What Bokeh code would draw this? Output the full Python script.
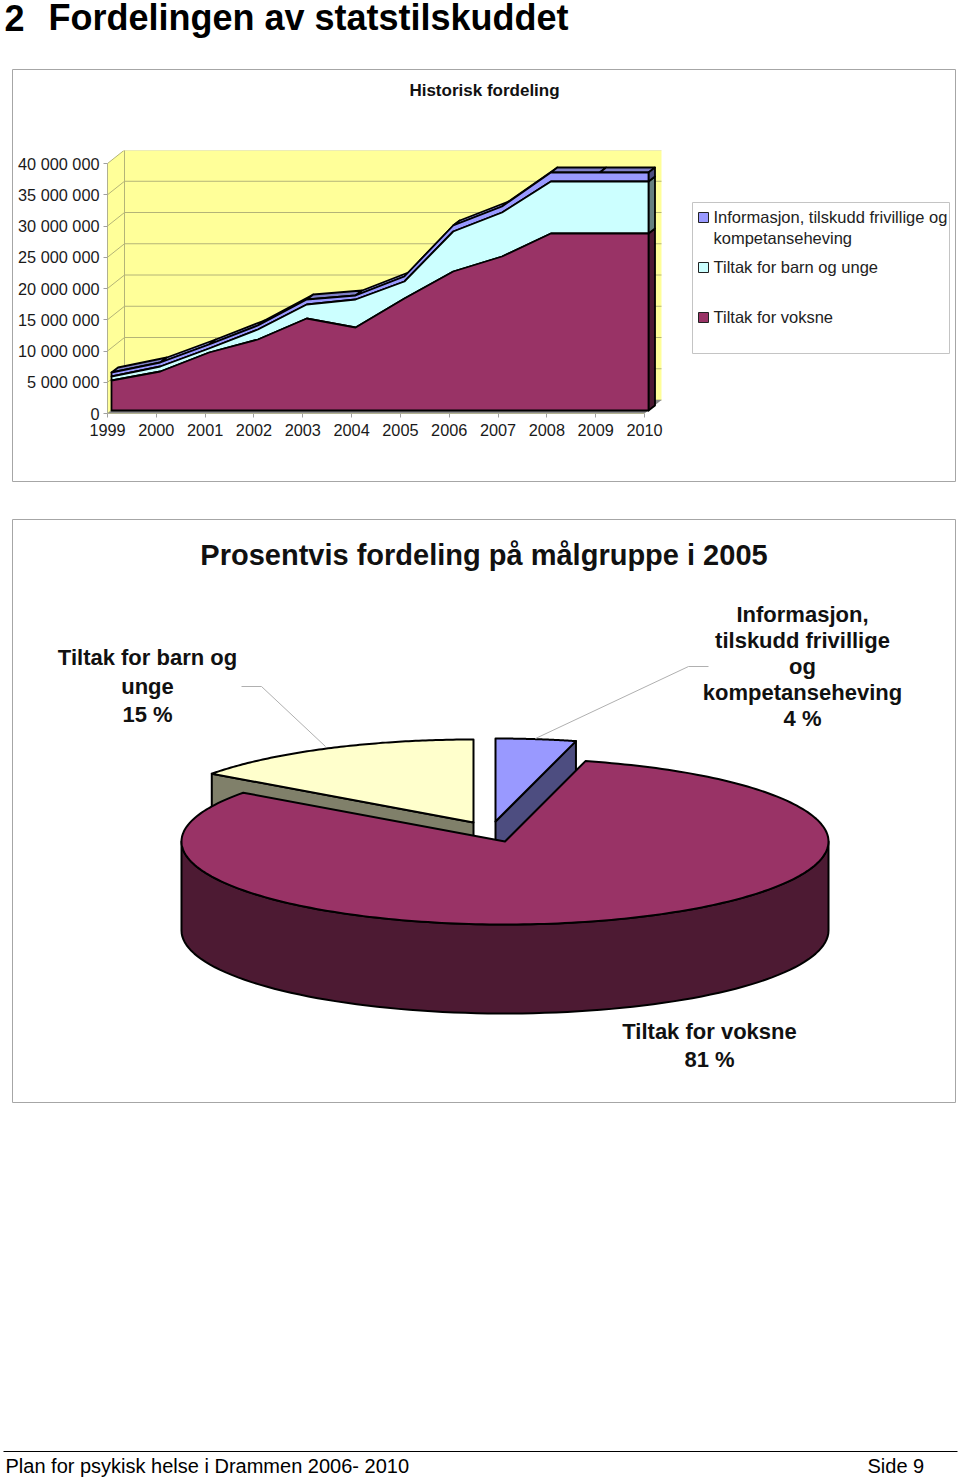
import numpy as np
from bokeh.core.properties import value
from bokeh.embed import file_html
from bokeh.models import FixedTicker, Range1d
from bokeh.plotting import figure
from bokeh.resources import INLINE

# ---------- data ----------
YEARS = [1999, 2000, 2001, 2002, 2003, 2004, 2005, 2006, 2007, 2008, 2009, 2010]
VOKSNE = [4.80, 6.24, 9.28, 11.36, 14.72, 13.28, 17.92, 22.24, 24.64, 28.32, 28.32, 28.32]
BARN = [0.64, 0.80, 0.64, 1.60, 2.24, 4.48, 2.72, 6.40, 7.04, 8.32, 8.32, 8.32]
INFO = [0.64, 0.64, 0.64, 0.64, 0.80, 0.64, 0.80, 0.96, 0.96, 1.44, 1.44, 1.44]
Y_TICKS = [0, 5, 10, 15, 20, 25, 30, 35, 40]
Y_LABELS = ["0", "5 000 000", "10 000 000", "15 000 000", "20 000 000",
            "25 000 000", "30 000 000", "35 000 000", "40 000 000"]
PIE_SHARES = {"info": 4, "voksne": 81, "barn": 15}

FONT = value("Liberation Sans")
W, H = 960, 1479
MAROON, MAROON_D = "#993366", "#4d1a33"
CYAN, CYAN_D = "#ccffff", "#668080"
BLUE, BLUE_D, BLUE_T = "#9999ff", "#4d4d80", "#8080c8"
YEL, YEL_D = "#ffffcc", "#80806a"
WALL, GRID = "#ffff99", "#b4b478"
ABS = {"position": "absolute", "left": "0px", "top": "0px"}

# ---------- page layer: panels, texts, legend, pie ----------
base = figure(width=W, height=H, x_range=(0, W), y_range=(H, 0), output_backend="svg",
              toolbar_location=None, min_border=0, styles=ABS, outline_line_color=None)
base.axis.visible = False
base.grid.visible = False


def txt(x, y, s, size, bold=False, align="left", color="#000000", fig=base):
    fig.text([x], [y], [s], text_font=FONT, text_font_size=size,
             text_font_style="bold" if bold else "normal", text_align=align,
             text_baseline="middle", text_color=color)


base.quad(left=[12, 12], right=[955, 955], top=[69, 519], bottom=[481, 1102],
          fill_color="white", line_color="#a6a6a6", line_width=1)
txt(4, 17, "2", "36px", True)
txt(48, 17, "Fordelingen av statstilskuddet", "36px", True)
txt(484, 90, "Historisk fordeling", "17px", True, "center", "#111111")
txt(483.5, 554, "Prosentvis fordeling på målgruppe i 2005", "29px", True, "center", "#111111")
for x, y, s in [(147, 657, "Tiltak for barn og"), (147, 686, "unge"), (147, 714, "15 %"),
                (802, 614, "Informasjon,"), (802, 640, "tilskudd frivillige"), (802, 666, "og"),
                (802, 692, "kompetanseheving"), (802, 718, "4 %"),
                (709, 1031, "Tiltak for voksne"), (709, 1059, "81 %")]:
    txt(x, y, s, "22px", True, "center", "#111111")

# legend
base.quad(left=[692], right=[949], top=[202], bottom=[353], fill_color="white",
          line_color="#c4c4c4", line_width=1)
base.quad(left=[698, 698, 698], right=[708, 708, 708], top=[212, 262, 312], bottom=[222, 272, 322],
          fill_color=[BLUE, CYAN, MAROON], line_color="#222222", line_width=1)
for y, s in [(216, "Informasjon, tilskudd frivillige og"), (237, "kompetanseheving"),
             (266, "Tiltak for barn og unge"), (316, "Tiltak for voksne")]:
    txt(713, y, s, "16.5px", False, "left", "#222222")

# footer
base.line([3, 957], [1451, 1451], line_color="black", line_width=1)
txt(5, 1465, "Plan for psykisk helse i Drammen 2006- 2010", "20px")
txt(867, 1465, "Side 9", "20px")

# pie: unit circle squashed by its own ranges
PIE_CX, PIE_CY, PIE_RX, PIE_RY = 504.5, 841.0, 323.5, 83.0
base.extra_x_ranges["pie"] = Range1d(-PIE_CX / PIE_RX, (W - PIE_CX) / PIE_RX)
base.extra_y_ranges["pie"] = Range1d(-(H - PIE_CY) / PIE_RY, PIE_CY / PIE_RY)
DEPTH = 89.0 / PIE_RY
px, py = 1 / PIE_RX, 1 / PIE_RY


def arc(a0, a1, n=90):
    a = np.radians(np.linspace(a0, a1, n))
    return np.sin(a), np.cos(a)


def piepatch(xs, ys, color, lw=2):
    base.patch(list(xs), list(ys), x_range_name="pie", y_range_name="pie",
               fill_color=color, line_color="black", line_width=lw, line_join="round")


a_info = 360 * PIE_SHARES["info"] / 100
a_voks = a_info + 360 * PIE_SHARES["voksne"] / 100

# light blue slice, lifted away from the centre
ox, oy = -9.5 * px, 20 * py
ax, ay = arc(0, a_info)
ex, ey = np.sin(np.radians(a_info)), np.cos(np.radians(a_info))
piepatch([ox, ox + ex, ox + ex, ox], [oy, oy + ey, oy + ey - DEPTH, oy - DEPTH], BLUE_D)
piepatch(np.r_[ox, ax + ox], np.r_[oy, ay + oy], BLUE)

# yellow slice
ox, oy = -31.5 * px, 19 * py
ax, ay = arc(a_voks, 360)
sx, sy = np.sin(np.radians(a_voks)), np.cos(np.radians(a_voks))
piepatch([ox, ox + sx, ox + sx, ox], [oy, oy + sy, oy + sy - DEPTH, oy - DEPTH], YEL_D)
piepatch(np.r_[ox, ax + ox], np.r_[oy, ay + oy], YEL)

# main slice
wx, wy = arc(90, 270)
piepatch(np.r_[wx, wx[::-1]], np.r_[wy, wy[::-1] - DEPTH], MAROON_D)
ax, ay = arc(a_info, a_voks, 240)
piepatch(np.r_[0, ax], np.r_[0, ay], MAROON)

# leader lines
base.line([241, 261, 325], [686, 686, 746], line_color="#b0b0b0", line_width=1)
base.line([708, 688, 535], [666, 666, 738], line_color="#b0b0b0", line_width=1)

# ---------- area chart layer ----------
FRAME_L, FRAME_R, FRAME_T, FRAME_B = 107, 956, 150, 413
YR_PX = (YEARS[-1] - YEARS[0]) / 537.0
VAL_PX = 40.0 / 250.0
area = figure(width=W, height=500, output_backend="svg", toolbar_location=None,
              x_range=Range1d(YEARS[0], YEARS[0] + (FRAME_R - FRAME_L) * YR_PX),
              y_range=Range1d(0, (FRAME_B - FRAME_T) * VAL_PX),
              min_border_left=FRAME_L, min_border_right=W - FRAME_R,
              min_border_top=FRAME_T, min_border_bottom=500 - FRAME_B,
              background_fill_color=None, border_fill_color=None,
              outline_line_color=None, styles=ABS)
area.grid.visible = False
for ax_ in (area.xaxis[0], area.yaxis[0]):
    ax_.axis_line_color = "#b0b090"
    ax_.major_tick_line_color = "#a0a0a0"
    ax_.major_tick_out = 4
    ax_.major_tick_in = 0
    ax_.minor_tick_line_color = None
    ax_.major_label_text_font = "Liberation Sans"
    ax_.major_label_text_font_size = "16.3px"
    ax_.major_label_text_color = "#1a1a1a"
area.yaxis[0].ticker = FixedTicker(ticks=Y_TICKS)
area.yaxis[0].major_label_overrides = dict(zip(Y_TICKS, Y_LABELS))
area.yaxis[0].bounds = (Y_TICKS[0], Y_TICKS[-1])
area.yaxis[0].major_label_standoff = 4
area.xaxis[0].ticker = FixedTicker(ticks=YEARS)
area.xaxis[0].major_label_overrides = {y: str(y) for y in YEARS}
area.xaxis[0].bounds = (YEARS[0], YEARS[-1])
area.xaxis[0].major_label_standoff = 6

wall_dx, wall_dy = 17 * YR_PX, 13.5 * VAL_PX
y0, y1 = YEARS[0], YEARS[-1]
top = Y_TICKS[-1]
# back and side wall, floor
area.patch([y0, y0 + wall_dx, y1 + wall_dx, y1 + wall_dx, y0 + wall_dx, y0],
           [top, top + wall_dy, top + wall_dy, wall_dy, wall_dy, 0],
           fill_color=WALL, line_color=None)
for t in Y_TICKS:
    area.line([y0, y0 + wall_dx, y1 + wall_dx], [t, t + wall_dy, t + wall_dy],
              line_color=GRID, line_width=1)
area.line([y0 + wall_dx, y0 + wall_dx], [wall_dy, top + wall_dy], line_color=GRID, line_width=1)
area.line([y0, y0], [0, top], line_color=GRID, line_width=1)
area.patch([y0, y1, y1 + wall_dx, y0 + wall_dx], [0, 0, wall_dy, wall_dy],
           fill_color="#8a8a8a", line_color=None)

# stacked series
fx, fy = 4 * YR_PX, 3 * VAL_PX    # front plane of the series
bx, by = 6.5 * YR_PX, 5 * VAL_PX  # depth of the series
xs = np.array(YEARS, dtype=float) + fx
low = np.zeros(len(YEARS)) + fy
c1 = low + np.array(VOKSNE)
c2 = c1 + np.array(BARN)
c3 = c2 + np.array(INFO)
LW = 1.8


def apatch(x, y, color):
    area.patch(list(x), list(y), fill_color=color, line_color="black", line_width=LW, line_join="round")


for i in range(len(xs) - 1):
    apatch([xs[i], xs[i + 1], xs[i + 1] + bx, xs[i] + bx],
           [c3[i], c3[i + 1], c3[i + 1] + by, c3[i] + by], BLUE_T)
for lo, up, col in [(low, c1, MAROON_D), (c1, c2, CYAN_D), (c2, c3, BLUE_D)]:
    apatch([xs[-1], xs[-1], xs[-1] + bx, xs[-1] + bx],
           [lo[-1], up[-1], up[-1] + by, lo[-1] + by], col)
for lo, up, col in [(c2, c3, BLUE), (c1, c2, CYAN), (low, c1, MAROON)]:
    apatch(np.r_[xs, xs[::-1]], np.r_[up, lo[::-1]], col)

with open("out.html", "w") as f:
    f.write(file_html([base, area], INLINE))
